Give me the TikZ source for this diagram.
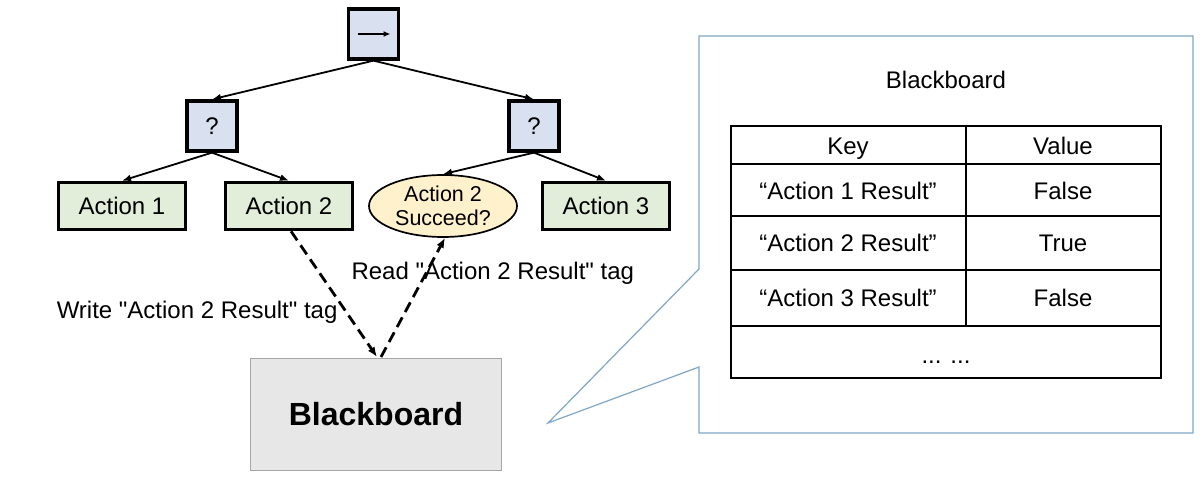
\documentclass[tikz,border=0pt]{standalone}
\usepackage{fontspec}
\setmainfont{Liberation Sans}[Ligatures=TeXOff]
\usetikzlibrary{arrows.meta,shapes.geometric}
\definecolor{ctrlfill}{HTML}{D9E1F1}
\definecolor{actfill}{HTML}{E2EED9}
\definecolor{condfill}{HTML}{FFF1CC}
\definecolor{bbfill}{HTML}{E7E7E7}
\definecolor{bbline}{HTML}{A6A6A6}
\definecolor{calloutline}{HTML}{7FA6C8}
\tikzset{
  x=1pt,y=-1pt,
  txt/.style={font=\fontsize{24}{27}\selectfont},
  ctrl/.style={draw=black,line width=3.3pt,fill=ctrlfill,minimum width=50,minimum height=50,inner sep=0,txt},
  act/.style={draw=black,line width=3.5pt,fill=actfill,minimum width=127,minimum height=47,inner sep=0,txt},
  cond/.style={ellipse,draw=black,line width=1.7pt,fill=condfill,minimum width=148,minimum height=62,inner sep=0,align=center,font=\fontsize{21.5}{24}\selectfont},
  tree/.style={line width=1.8pt,-{Latex[length=9pt,width=7pt]}},
  rw/.style={line width=2.8pt,dash pattern=on 11pt off 6pt,-{Latex[length=10pt,width=8pt]}},
  cell/.style={txt,anchor=center,text height=17,text depth=5,inner sep=0,yshift=-3pt},
}
\begin{document}
\begin{tikzpicture}
\useasboundingbox (0,0) rectangle (1203,481);
\fill[white] (0,0) rectangle (1203,481);
% tree
\node[ctrl] (seq) at (373.5,34) {};
\draw[line width=1.6pt,-{Latex[length=7pt,width=6pt]}] ([xshift=-16]seq.center) -- ([xshift=17]seq.center);
\node[ctrl] (selL) at (212,126) {?};
\node[ctrl] (selR) at (534,126) {?};
\node[act] (a1) at (122,206) {Action 1};
\node[act] (a2) at (289,206) {Action 2};
\node[cond] (c2) at (443,206) {Action 2\\Succeed?};
\node[act] (a3) at (606,206) {Action 3};
\draw[tree] (seq.south) -- (selL.north);
\draw[tree] (seq.south) -- (selR.north);
\draw[tree] (selL.south) -- (a1.north);
\draw[tree] (selL.south) -- (a2.north);
\draw[tree] (selR.south) -- (c2.north);
\draw[tree] (selR.south) -- (a3.north);
% blackboard
\node[draw=bbline,line width=1pt,fill=bbfill,minimum width=251,minimum height=112,inner sep=0,font=\fontsize{32}{36}\selectfont\bfseries] (bb) at (376,414) {Blackboard};
\coordinate (bbin) at (377,357);
\coordinate (bbout) at (381,357);
\draw[rw] ([xshift=2]a2.south) -- (bbin);
\draw[rw] (bbout) -- ([xshift=2]c2.south);
\node[txt,anchor=east] (wl) at (341,312) {Write "Action 2 Result" tag};
\node[txt,anchor=west] (rl) at (348,273) {Read "Action 2 Result" tag};
% callout
\draw[calloutline,line width=1.2pt,fill=white] (699,36) -- (1193,36) -- (1193,433) -- (699,433) -- (699,367) -- (548,423) -- (699,269) -- cycle;
\node[cell] (title) at (946,80) {Blackboard};
\draw[line width=1.4pt] (731,126) rectangle (1161,378);
\foreach \yy in {164,216,270,326} \draw[line width=1.4pt] (731,\yy) -- (1161,\yy);
\draw[line width=1.4pt] (966,126) -- (966,326);
\node[cell] (k0) at (848,146) {Key};
\node[cell] (v0) at (1063,146) {Value};
\node[cell] (k1) at (848,191) {“Action 1 Result”};
\node[cell] (v1) at (1063,191) {False};
\node[cell] (k2) at (848,243) {“Action 2 Result”};
\node[cell] (v2) at (1063,243) {True};
\node[cell] (k3) at (848,298) {“Action 3 Result”};
\node[cell] (v3) at (1063,298) {False};
\node[cell] (dots) at (946,354) {... ...};
\end{tikzpicture}
\end{document}
